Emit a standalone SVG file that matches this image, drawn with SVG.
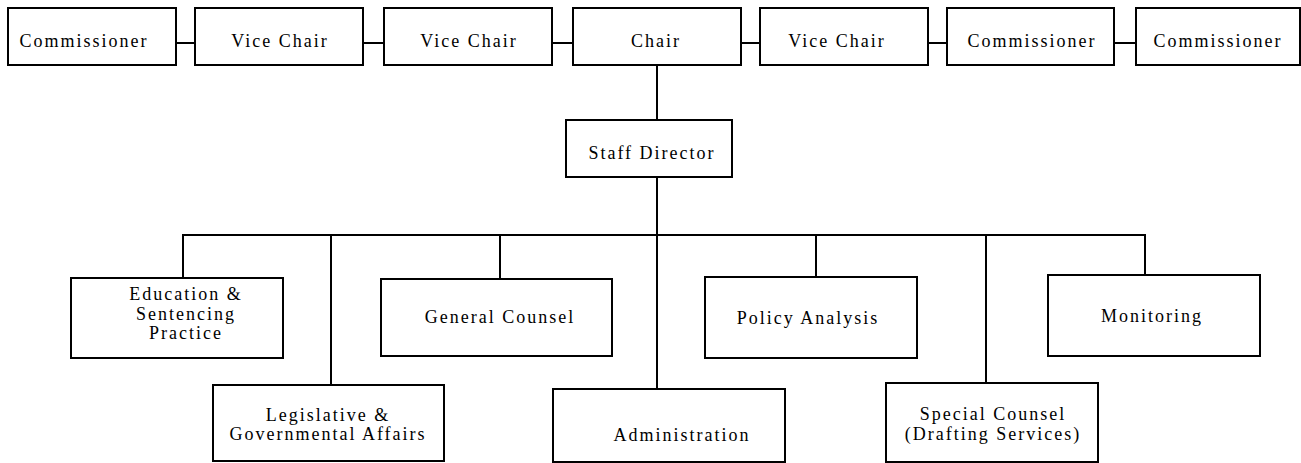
<svg xmlns="http://www.w3.org/2000/svg" width="1301" height="463" viewBox="0 0 1301 463">
<style>
.box{fill:#fff;stroke:#000;stroke-width:2}
.ln{stroke:#000;stroke-width:2;fill:none}
.t{font-family:'Liberation Serif','Times New Roman','DejaVu Serif',serif;font-size:18px;letter-spacing:2px;text-anchor:middle;fill:#000}
</style>
<rect width="1301" height="463" fill="#fff"/>
<g id="connectors">
<line class="ln" x1="176" y1="43" x2="195" y2="43"/>
<line class="ln" x1="363" y1="43" x2="384" y2="43"/>
<line class="ln" x1="552" y1="43" x2="573" y2="43"/>
<line class="ln" x1="741" y1="43" x2="760" y2="43"/>
<line class="ln" x1="928" y1="43" x2="947" y2="43"/>
<line class="ln" x1="1114" y1="43" x2="1136" y2="43"/>
<line class="ln" x1="657" y1="65" x2="657" y2="120"/>
<line class="ln" x1="657" y1="177" x2="657" y2="235"/>
<line class="ln" x1="182" y1="235" x2="1146" y2="235"/>
<line class="ln" x1="183" y1="235" x2="183" y2="278"/>
<line class="ln" x1="331" y1="235" x2="331" y2="385"/>
<line class="ln" x1="500" y1="235" x2="500" y2="279"/>
<line class="ln" x1="657" y1="235" x2="657" y2="389"/>
<line class="ln" x1="816" y1="235" x2="816" y2="277"/>
<line class="ln" x1="986" y1="235" x2="986" y2="383"/>
<line class="ln" x1="1145" y1="235" x2="1145" y2="275"/>
</g>
<g id="commissioner1"><rect class="box" x="8" y="8" width="168" height="57"/><text class="t" x="84" y="47">Commissioner</text></g>
<g id="vicechair1"><rect class="box" x="195" y="8" width="168" height="57"/><text class="t" x="280" y="47">Vice Chair</text></g>
<g id="vicechair2"><rect class="box" x="384" y="8" width="168" height="57"/><text class="t" x="469" y="47">Vice Chair</text></g>
<g id="chair"><rect class="box" x="573" y="8" width="168" height="57"/><text class="t" x="656" y="47">Chair</text></g>
<g id="vicechair3"><rect class="box" x="760" y="8" width="168" height="57"/><text class="t" x="837" y="47">Vice Chair</text></g>
<g id="commissioner2"><rect class="box" x="947" y="8" width="167" height="57"/><text class="t" x="1032" y="47">Commissioner</text></g>
<g id="commissioner3"><rect class="box" x="1136" y="8" width="164" height="57"/><text class="t" x="1218" y="47">Commissioner</text></g>
<g id="staffdirector"><rect class="box" x="566" y="120" width="166" height="57"/><text class="t" x="652" y="159">Staff Director</text></g>
<g id="education"><rect class="box" x="71" y="278" width="212" height="80"/><text class="t" x="186" y="300">Education &amp;</text><text class="t" x="186" y="319.5">Sentencing</text><text class="t" x="186" y="339">Practice</text></g>
<g id="legislative"><rect class="box" x="213" y="385" width="231" height="76"/><text class="t" x="328" y="421">Legislative &amp;</text><text class="t" x="328" y="440">Governmental Affairs</text></g>
<g id="generalcounsel"><rect class="box" x="381" y="279" width="231" height="77"/><text class="t" x="500" y="323">General Counsel</text></g>
<g id="administration"><rect class="box" x="553" y="389" width="232" height="73"/><text class="t" x="682" y="441">Administration</text></g>
<g id="policyanalysis"><rect class="box" x="705" y="277" width="212" height="81"/><text class="t" x="808" y="324">Policy Analysis</text></g>
<g id="specialcounsel"><rect class="box" x="886" y="383" width="212" height="79"/><text class="t" x="993" y="420">Special Counsel</text><text class="t" x="993" y="440">(Drafting Services)</text></g>
<g id="monitoring"><rect class="box" x="1048" y="275" width="212" height="81"/><text class="t" x="1152" y="322">Monitoring</text></g>
</svg>
